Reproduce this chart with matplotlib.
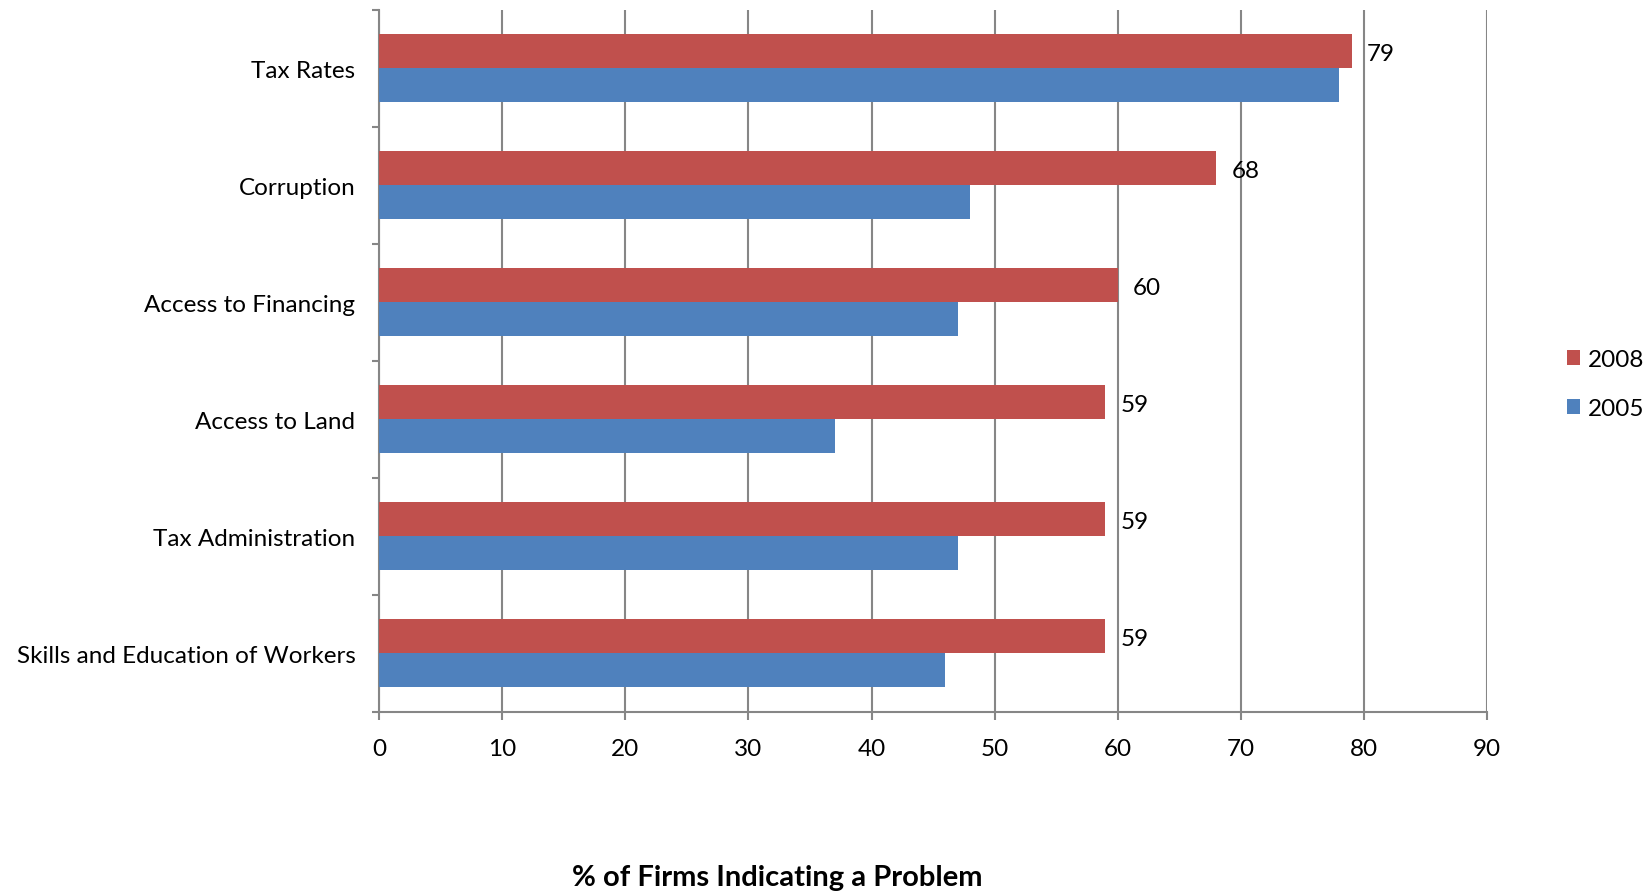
import matplotlib
matplotlib.use("Agg")
import matplotlib.pyplot as plt
import numpy as np

categories = ["Tax Rates", "Corruption", "Access to Financing", "Access to Land",
              "Tax Administration", "Skills and Education of Workers"]
values_2008 = [79, 68, 60, 59, 59, 59]
values_2005 = [78, 48, 47, 37, 47, 46]
x_ticks = [0, 10, 20, 30, 40, 50, 60, 70, 80, 90]
xlabel = "% of Firms Indicating a Problem"

plt.rcParams['font.family'] = ['Lato', 'DejaVu Sans']

fig = plt.figure(figsize=(16.51, 8.95), dpi=100)
ax = fig.add_axes([0.2296, 0.2034, 0.9007 - 0.2296, 0.988 - 0.2034])

red = "#C0504D"
blue = "#4F81BD"
grid_c = "#868686"
fs = 17.5

n = len(categories)
pos = np.arange(n)[::-1]  # first category at top
h = 0.29
b08 = ax.barh(pos + h / 2, values_2008, height=h, color=red, label="2008", zorder=3)
b05 = ax.barh(pos - h / 2, values_2005, height=h, color=blue, label="2005", zorder=3)

for v, y in zip(values_2008, pos + h / 2):
    ax.annotate(str(v), xy=(v, y), xytext=(11, -1.5), textcoords="offset points",
                va="center", ha="left", fontsize=fs, color="black")

ax.set_xlim(0, 90)
ax.set_ylim(-0.5, n - 0.5)
ax.set_xticks(x_ticks)
ax.set_xticklabels([str(t) for t in x_ticks], fontsize=fs)
ax.set_yticks(pos)
ax.set_yticklabels(categories, fontsize=fs)
ax.tick_params(axis="y", length=0, pad=17)
ax.set_yticks(np.arange(n + 1) - 0.5, minor=True)
ax.tick_params(axis="y", which="minor", length=5, color=grid_c, width=1.5)
ax.tick_params(axis="x", length=6, color=grid_c, width=1.5, pad=12.5)

ax.xaxis.grid(True, color=grid_c, linewidth=1.5, zorder=0)
ax.set_axisbelow(False)
for s in ["top", "right"]:
    ax.spines[s].set_visible(False)
for s in ["left", "bottom"]:
    ax.spines[s].set_color(grid_c)
    ax.spines[s].set_linewidth(1.5)

handles = [b08, b05]
leg = fig.legend(handles, ["2008", "2005"], loc="center left",
                 bbox_to_anchor=(0.949, 0.570), frameon=False, fontsize=fs,
                 handlelength=0.55, handleheight=0.55, handletextpad=0.3,
                 labelspacing=1.15, borderpad=0, borderaxespad=0)

fig.text(0.4706, 0.0185, xlabel, ha="center", va="center", fontsize=21,
         fontweight="bold")

fig.savefig("out.png", dpi=100)
